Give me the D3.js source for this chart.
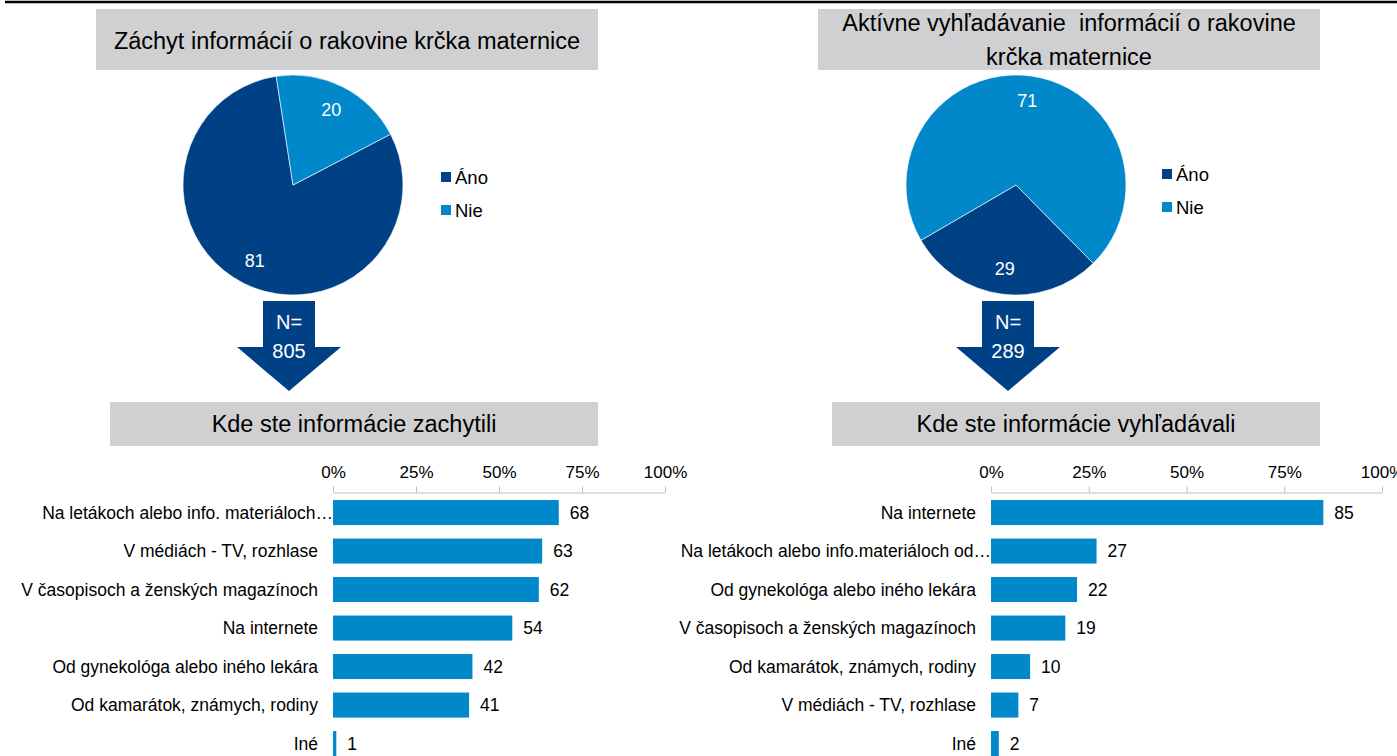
<!DOCTYPE html>
<html>
<head>
<meta charset="utf-8">
<script src="https://cdn.jsdelivr.net/npm/d3@7"></script>
<style>
  html, body { margin: 0; padding: 0; background: #fff; overflow: hidden; }
  svg { display: block; font-family: "Liberation Sans", Arial, sans-serif; }
  text { white-space: pre; }
</style>
</head>
<body>
<svg id="chart" width="1397" height="756"></svg>
<script>
// ---------- DATA ----------
const pieCategories = ["Áno", "Nie"];
const pieLeftValues = [81, 20];
const pieRightValues = [29, 71];
const pieLeftTitle = ["Záchyt informácií o rakovine krčka maternice"];
const pieRightTitle = ["Aktívne vyhľadávanie  informácií o rakovine", "krčka maternice"];
const nLeft = 805;
const nRight = 289;

const barLeftTitle = "Kde ste informácie zachytili";
const barLeftCategories = [
  "Na letákoch alebo info. materiáloch…",
  "V médiách - TV, rozhlase",
  "V časopisoch a ženských magazínoch",
  "Na internete",
  "Od gynekológa alebo iného lekára",
  "Od kamarátok, známych, rodiny",
  "Iné"
];
const barLeftValues = [68, 63, 62, 54, 42, 41, 1];

const barRightTitle = "Kde ste informácie vyhľadávali";
const barRightCategories = [
  "Na internete",
  "Na letákoch alebo info.materiáloch od…",
  "Od gynekológa alebo iného lekára",
  "V časopisoch a ženských magazínoch",
  "Od kamarátok, známych, rodiny",
  "V médiách - TV, rozhlase",
  "Iné"
];
const barRightValues = [85, 27, 22, 19, 10, 7, 2];

const axisTicks = [0, 25, 50, 75, 100];

// ---------- STYLE ----------
const DARK = "#004186";
const LIGHT = "#0088CA";
const GRAY_BOX = "#D0D0D2";
const AXIS_GRAY = "#BFBFBF";
const FONT = "'Liberation Sans', Arial, sans-serif";

const svg = d3.select("#chart");

// top rule
svg.append("line").attr("x1", 5).attr("x2", 1397).attr("y1", 2).attr("y2", 2)
  .attr("stroke", "#000").attr("stroke-width", 2.5);

function titleBox(x, y, w, h, lines, baseline0, lineGap, fs) {
  svg.append("rect").attr("x", x).attr("y", y).attr("width", w).attr("height", h).attr("fill", GRAY_BOX);
  lines.forEach((t, i) => {
    svg.append("text").attr("x", x + w / 2).attr("y", baseline0 + i * lineGap)
      .attr("text-anchor", "middle").attr("font-size", fs).attr("fill", "#000")
      .attr("xml:space", "preserve")
      .text(t);
  });
}

titleBox(96, 9, 502, 61, pieLeftTitle, 49, 35, 23.5);
titleBox(818, 9, 502, 61, pieRightTitle, 31, 34, 23.5);
titleBox(110, 402, 488, 44, [barLeftTitle], 432, 0, 23.5);
titleBox(832, 402, 488, 44, [barRightTitle], 432, 0, 23.5);

// ---------- PIES ----------
const color = d3.scaleOrdinal().domain(pieCategories).range([DARK, LIGHT]);

function drawPie(cx, cy, r, values, startDeg, legendX, legendY) {
  const data = pieCategories.map((c, i) => ({ cat: c, value: values[i] }));
  const start = startDeg * Math.PI / 180;
  const pie = d3.pie().sort(null).value(d => d.value).startAngle(start).endAngle(start + 2 * Math.PI);
  const arcs = pie(data);
  const arc = d3.arc().innerRadius(0).outerRadius(r);
  const labelArc = d3.arc().innerRadius(r * 0.77).outerRadius(r * 0.77);
  const g = svg.append("g").attr("transform", `translate(${cx},${cy})`);
  g.selectAll("path").data(arcs).join("path")
    .attr("d", arc).attr("fill", d => color(d.data.cat))
    .attr("stroke", "#fff").attr("stroke-width", 0.6);
  g.selectAll("text").data(arcs).join("text")
    .attr("transform", d => `translate(${labelArc.centroid(d)})`)
    .attr("text-anchor", "middle").attr("dy", "0.35em")
    .attr("font-size", 18).attr("fill", "#fff")
    .text(d => d.data.value);

  const lg = svg.append("g").attr("transform", `translate(${legendX},${legendY})`);
  pieCategories.forEach((c, i) => {
    lg.append("rect").attr("x", 0).attr("y", i * 33 - 5).attr("width", 10).attr("height", 10).attr("fill", color(c));
    lg.append("text").attr("x", 14).attr("y", i * 33).attr("dy", "0.36em")
      .attr("font-size", 18.5).attr("fill", "#000").text(c);
  });
}

drawPie(293, 185, 110, pieLeftValues, 62.5, 441, 177);
drawPie(1016, 185, 110, pieRightValues, 135.4, 1162, 174);

// ---------- N ARROWS ----------
function drawArrow(cx, n) {
  const pts = [
    [cx - 26, 301], [cx + 26, 301], [cx + 26, 347], [cx + 52, 347],
    [cx, 391], [cx - 52, 347], [cx - 26, 347]
  ];
  svg.append("polygon").attr("points", pts.map(p => p.join(",")).join(" ")).attr("fill", DARK);
  svg.append("text").attr("x", cx).attr("y", 329).attr("text-anchor", "middle")
    .attr("font-size", 20).attr("fill", "#fff").text("N=");
  svg.append("text").attr("x", cx).attr("y", 358).attr("text-anchor", "middle")
    .attr("font-size", 20).attr("fill", "#fff").text(n);
}
drawArrow(289, nLeft);
drawArrow(1008, nRight);

// ---------- BAR CHARTS ----------
function drawBars(cats, vals, x0, x1, axisY) {
  const x = d3.scaleLinear().domain([0, 100]).range([x0, x1]);
  const y = d3.scaleBand().domain(cats).range([493.3, 762.8]).paddingInner(0.35).paddingOuter(0.175);

  const axis = d3.axisTop(x).tickValues(axisTicks).tickFormat(d => d + "%")
    .tickSizeInner(6).tickSizeOuter(0).tickPadding(8.5);
  const ag = svg.append("g").attr("transform", `translate(0,${axisY})`).call(axis);
  ag.select(".domain").attr("stroke", AXIS_GRAY);
  ag.selectAll(".tick line").attr("stroke", AXIS_GRAY);
  ag.selectAll(".tick text").attr("font-size", 17).attr("font-family", FONT).attr("fill", "#000");

  const g = svg.append("g");
  const data = cats.map((c, i) => ({ cat: c, value: vals[i] }));
  g.selectAll("rect").data(data).join("rect")
    .attr("x", x(0)).attr("y", d => y(d.cat))
    .attr("width", d => x(d.value) - x(0)).attr("height", y.bandwidth())
    .attr("fill", LIGHT);
  g.selectAll("text.val").data(data).join("text").attr("class", "val")
    .attr("x", d => x(d.value) + 11).attr("y", d => y(d.cat) + y.bandwidth() / 2)
    .attr("dy", "0.36em").attr("font-size", 17.5).attr("fill", "#000")
    .text(d => d.value);
  g.selectAll("text.cat").data(data).join("text").attr("class", "cat")
    .attr("x", d => d.cat.endsWith("…") ? x(0) : x(0) - 15)
    .attr("y", d => y(d.cat) + y.bandwidth() / 2)
    .attr("dy", "0.36em").attr("text-anchor", "end").attr("font-size", 17.5).attr("fill", "#000")
    .text(d => d.cat);
}

drawBars(barLeftCategories, barLeftValues, 333, 665, 492.5);
drawBars(barRightCategories, barRightValues, 991, 1382, 492.5);
</script>
</body>
</html>
